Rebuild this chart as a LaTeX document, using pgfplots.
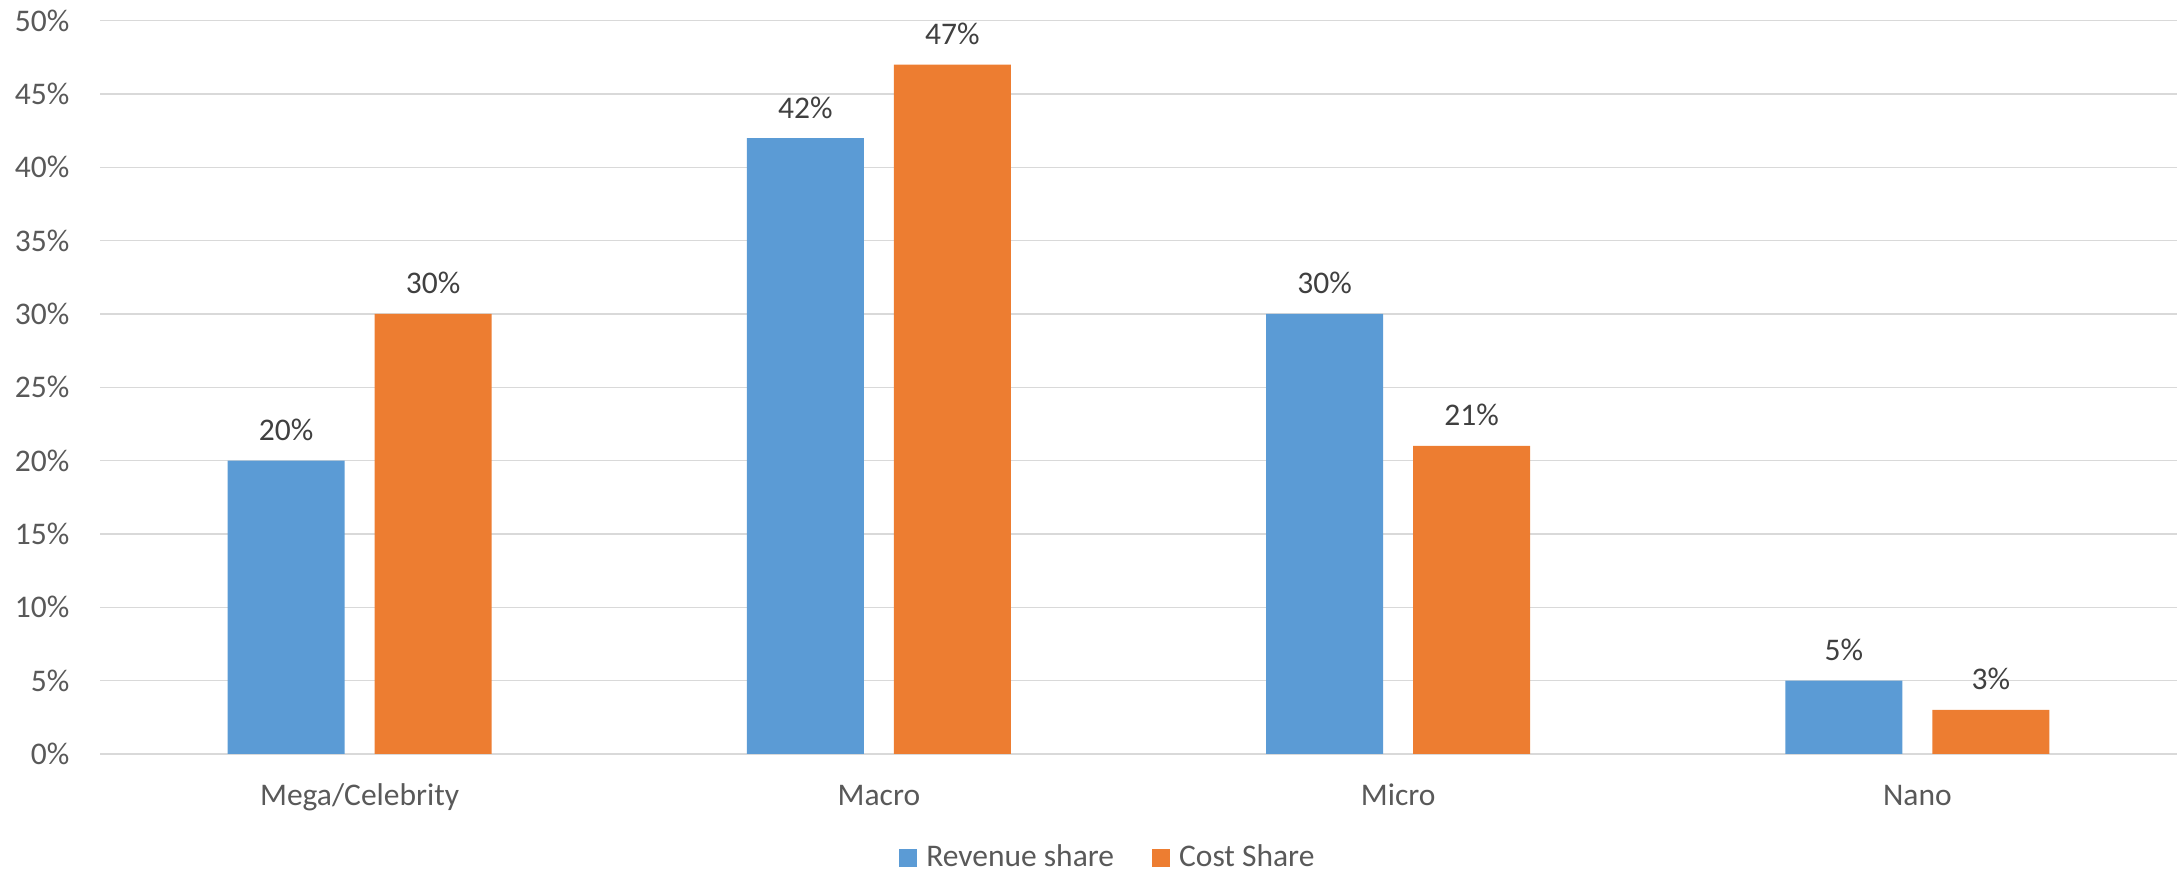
\documentclass[border=0pt]{standalone}
\usepackage{fontspec}
\setmainfont{Carlito}
\usepackage{pgfplots}
\pgfplotsset{compat=1.18}
\definecolor{cblue}{HTML}{5B9BD5}
\definecolor{corange}{HTML}{ED7D31}
\definecolor{cgrid}{HTML}{D9D9D9}
\definecolor{ctick}{HTML}{595959}
\definecolor{clab}{HTML}{404040}
\begin{document}
\fontsize{9.45pt}{11pt}\selectfont
\begin{tikzpicture}
\useasboundingbox (0,0) rectangle (654.9pt,261.6pt);
\begin{axis}[
  at={(30pt,35.4pt)}, anchor=south west,
  scale only axis, width=623.1pt, height=220pt,
  xmin=-0.5, xmax=3.5, ymin=0, ymax=50,
  xtick={0,1,2,3},
  xticklabels={Mega/Celebrity,Macro,Micro,Nano},
  ytick={0,5,...,50},
  yticklabel={\pgfmathprintnumber{\tick}\%},
  /pgf/number format/assume math mode=true,
  axis line style={draw=none},
  axis x line*=bottom,
  x axis line style={draw=cgrid, line width=0.45pt},
  major tick length=0pt,
  ymajorgrids, grid style={cgrid, line width=0.4pt},
  yticklabel style={anchor=east, inner sep=0pt, xshift=-9pt, text=ctick, font=\fontsize{9.45pt}{11pt}\selectfont},
  xticklabel style={anchor=base, inner sep=0pt, yshift=-15.6pt, text=ctick, font=\fontsize{9.45pt}{11pt}\selectfont},
  ybar, bar width=35.1pt,
  clip=false,
  nodes near coords={\pgfmathprintnumber{\pgfplotspointmeta}\%},
  every node near coord/.append style={anchor=base, inner sep=0pt, yshift=6pt, text=clab, font=\fontsize{9.45pt}{11pt}\selectfont},
  legend columns=2,
  legend style={draw=none, fill=none, at={(0.4848,-0.1418)}, anchor=center,
    inner sep=0pt, nodes={inner sep=0pt, text=ctick, font=\fontsize{9.45pt}{11pt}\selectfont},
    /tikz/every odd column/.append style={column sep=2.7pt},
    /tikz/every even column/.append style={column sep=11.4pt}},
  legend image code/.code={\fill[#1] (0pt,-2.7pt) rectangle (5.4pt,2.7pt);},
]
\addplot[fill=cblue, draw=none, bar shift=-22.05pt] coordinates {(0,20) (1,42) (2,30) (3,5)};
\addplot[fill=corange, draw=none, bar shift=22.05pt] coordinates {(0,30) (1,47) (2,21) (3,3)};
\legend{Revenue share, Cost Share}
\end{axis}
\end{tikzpicture}
\end{document}
